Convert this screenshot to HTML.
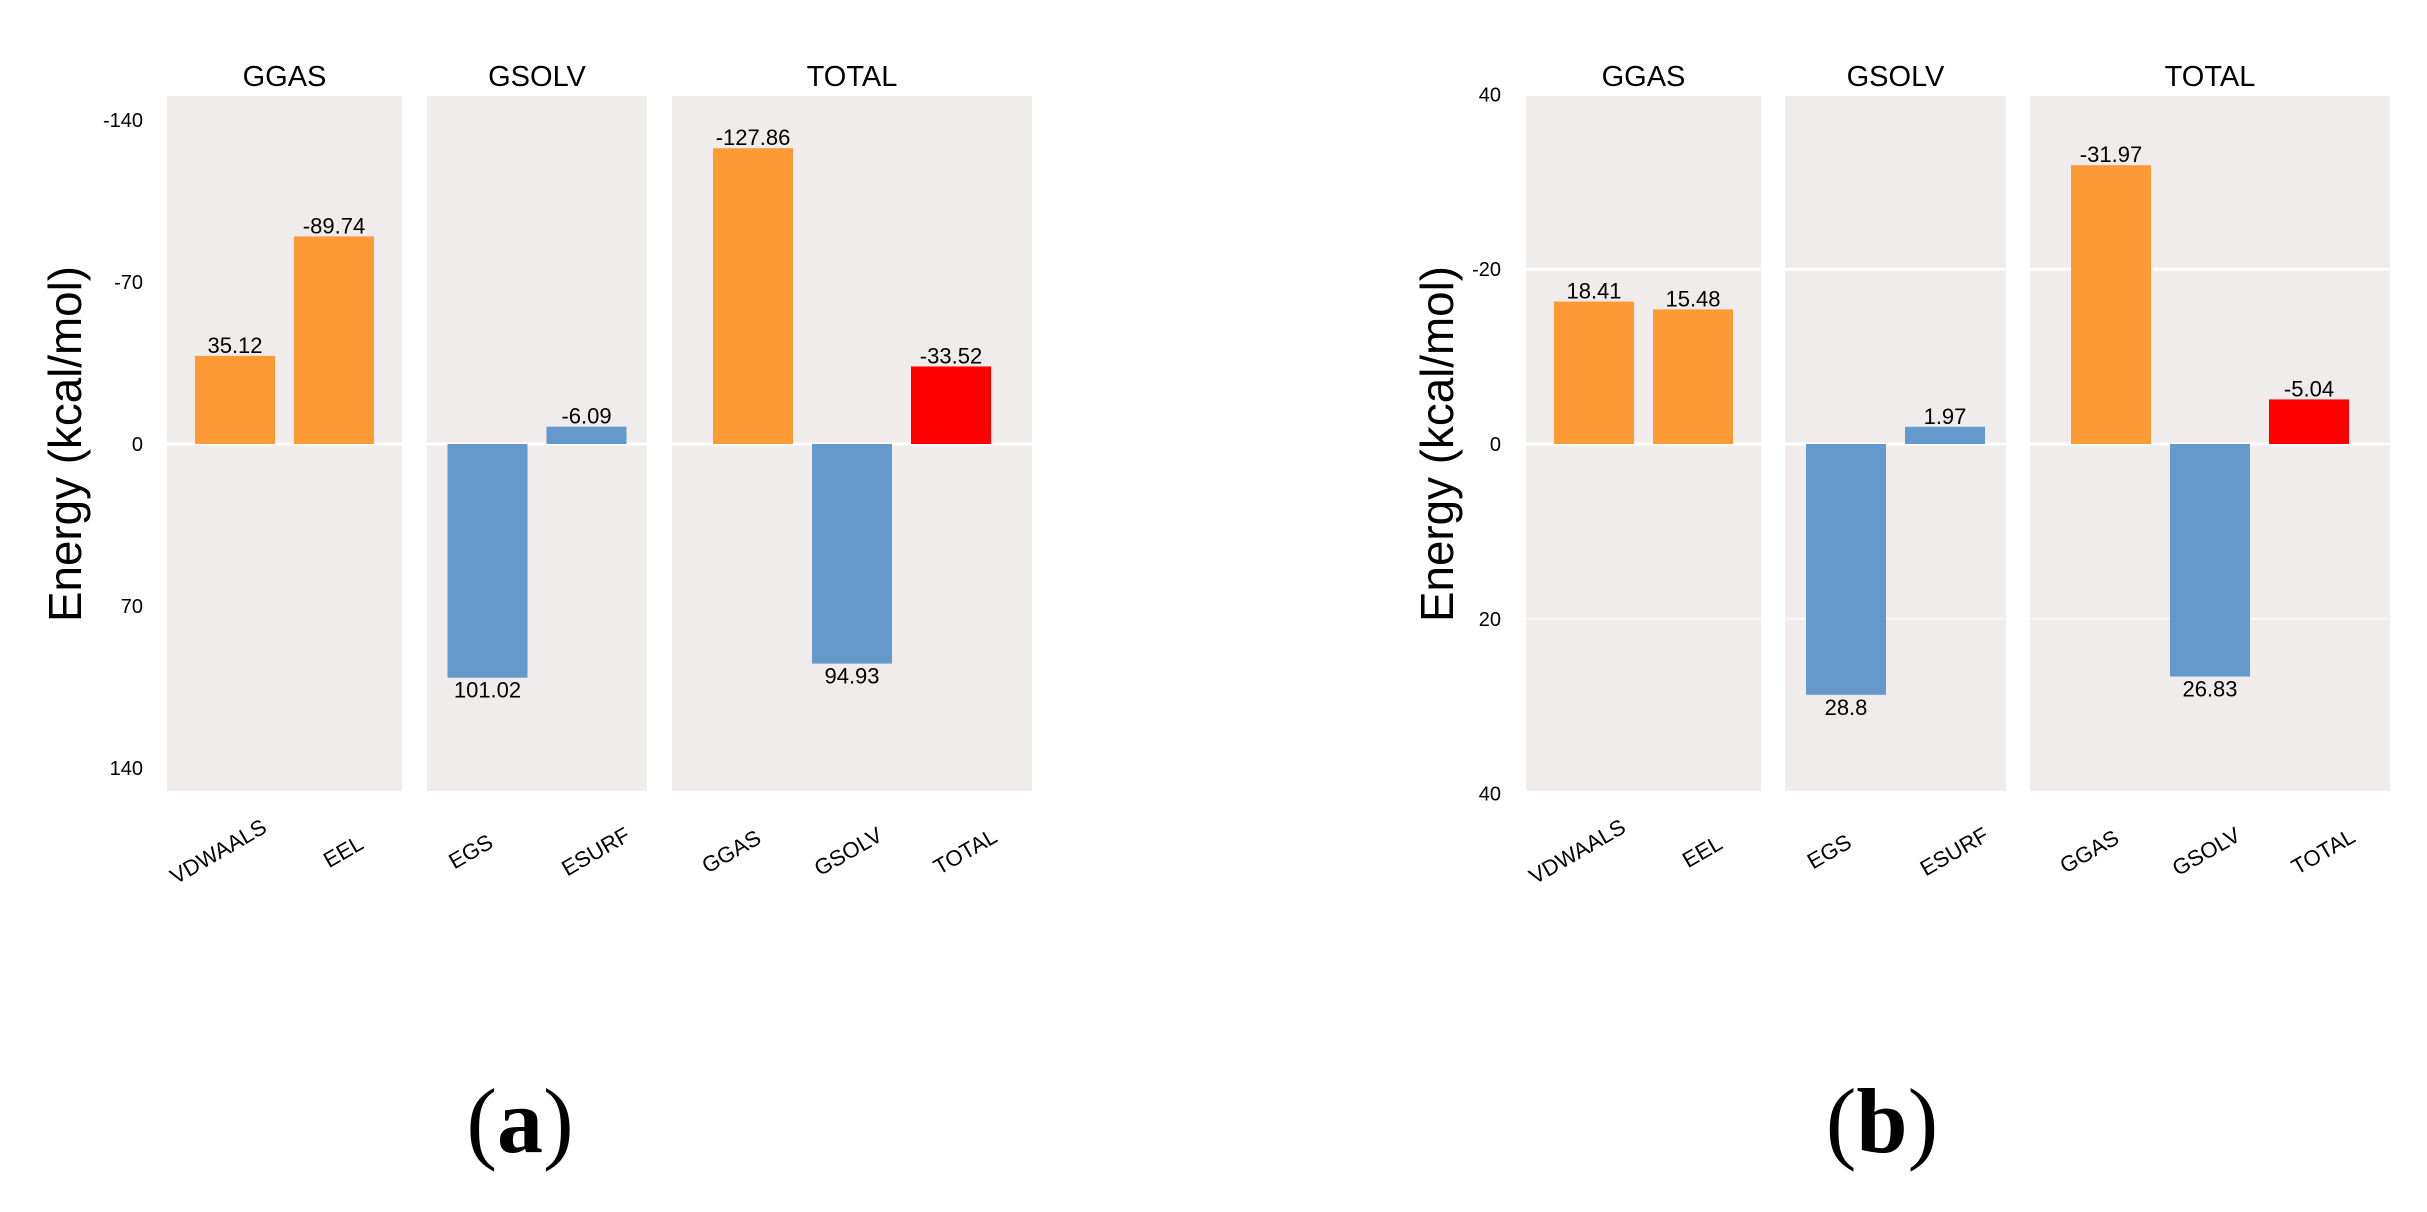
<!DOCTYPE html>
<html><head><meta charset="utf-8"><style>
html,body{margin:0;padding:0;background:#fff;}
svg{display:block;font-family:"Liberation Sans",Arial,sans-serif;}
</style></head><body>
<svg id="fig" width="2427" height="1212" viewBox="0 0 2427 1212" xmlns="http://www.w3.org/2000/svg">
<text x="0" y="0" transform="translate(81,444) rotate(-90)" text-anchor="middle" font-size="46" textLength="356" lengthAdjust="spacingAndGlyphs">Energy (kcal/mol)</text>
<text x="0" y="0" transform="translate(1453,444) rotate(-90)" text-anchor="middle" font-size="46" textLength="356" lengthAdjust="spacingAndGlyphs">Energy (kcal/mol)</text>
<text x="520" y="1152" text-anchor="middle" font-family="Liberation Serif, serif" font-size="92">(<tspan font-weight="bold">a</tspan>)</text>
<text x="1882" y="1152" text-anchor="middle" font-family="Liberation Serif, serif" font-size="92">(<tspan font-weight="bold">b</tspan>)</text>
</svg>
<script>
// ---- data: chart (a) ----
const facetsA = ["GGAS", "GSOLV", "TOTAL"];
const categoriesA = [["VDWAALS", "EEL"], ["EGS", "ESURF"], ["GGAS", "GSOLV", "TOTAL"]];
const valuesA = [[-38.1, -89.74], [101.02, -7.5], [-127.86, 94.93, -33.52]];
const labelsA = [["35.12", "-89.74"], ["101.02", "-6.09"], ["-127.86", "94.93", "-33.52"]];
const ticksA = [-140, -70, 0, 70, 140];
const tickLabelsA = ["-140", "-70", "0", "70", "140"];
const gridA = [0];
// ---- data: chart (b) ----
const facetsB = ["GGAS", "GSOLV", "TOTAL"];
const categoriesB = [["VDWAALS", "EEL"], ["EGS", "ESURF"], ["GGAS", "GSOLV", "TOTAL"]];
const valuesB = [[-16.3, -15.4], [28.7, -1.97], [-31.9, 26.6, -5.1]];
const labelsB = [["18.41", "15.48"], ["28.8", "1.97"], ["-31.97", "26.83", "-5.04"]];
const ticksB = [-40, -20, 0, 20, 40];
const tickLabelsB = ["40", "-20", "0", "20", "40"];
const gridB = [-20, 0, 20];

const NS = "http://www.w3.org/2000/svg";
const svg = document.getElementById("fig");
function mk(tag, attrs, parent) {
  const e = document.createElementNS(NS, tag);
  for (const k in attrs) e.setAttribute(k, attrs[k]);
  (parent || svg).appendChild(e);
  return e;
}
const colors = {GGAS:"#FE9A36", VDWAALS:"#FE9A36", EEL:"#FE9A36", EGS:"#6699CB", ESURF:"#6699CB", GSOLV:"#6699CB", TOTAL:"#FF0000"};

function drawChart(cfg) {
  const top = 96, bottom = 791, zero = 444;
  const y = v => zero + v * (bottom - zero) / cfg.dom;
  const g = mk("g", {});
  
  
  cfg.ticks.forEach((t, i) => {
    const tl = mk("text", {x: cfg.tickX, y: y(t) + 7, "text-anchor": "end", "font-size": 20, fill: "#000"}, g);
    
    
    tl.textContent = cfg.tickLabels[i];
  });
  cfg.facets.forEach((f, p) => {
    const [x0, x1] = cfg.panels[p];
    const bg = mk("rect", {x: x0, y: top, width: x1 - x0, height: bottom - top, fill: "#F0ECEB"}, g);
    
    
    cfg.grid.forEach(gv => {
      const ln = mk("line", {x1: x0, x2: x1, y1: y(gv), y2: y(gv), stroke: gv > 0 ? "#F8F6F6" : "#fff", "stroke-width": gv === 0 ? 3 : (gv > 0 ? 2 : 3)}, g);
      
      
    });
    const st = mk("text", {x: (x0 + x1) / 2, y: 86, "text-anchor": "middle", "font-size": 29}, g);
    
    
    st.textContent = f;
    const cats = cfg.cats[p], n = cats.length;
    const c0 = (x0 + x1) / 2 - (n - 1) * cfg.step / 2;
    cats.forEach((c, i) => {
      const cx = c0 + i * cfg.step, v = cfg.values[p][i];
      const yv = y(v), y0 = y(0);
      const r = mk("rect", {x: cx - 40, y: Math.min(yv, y0), width: 80, height: Math.abs(yv - y0), fill: colors[c]}, g);
      
      
      const lt = mk("text", {x: cx, y: v < 0 ? yv - 3 : yv + 20, "text-anchor": "middle", "font-size": 22}, g);
      
      
      lt.textContent = cfg.labels[p][i];
      const off = (i - (n - 1) / 2) * (n === 2 ? 26 : 18);
      const xl = mk("text", {x: 0, y: 0, transform: "translate(" + (cx + off) + ",858) rotate(-30)", "text-anchor": "middle", "font-size": 22}, g);
      
      
      xl.textContent = c;
    });
  });
}
drawChart({name: "chart-a", dom: 150, tickX: 143, step: 99, panels: [[167, 402], [427, 647], [672, 1032]],
  facets: facetsA, cats: categoriesA, values: valuesA, labels: labelsA, ticks: ticksA, tickLabels: tickLabelsA, grid: gridA});
drawChart({name: "chart-b", dom: 39.7, tickX: 1501, step: 99, panels: [[1526, 1761], [1785, 2006], [2030, 2390]],
  facets: facetsB, cats: categoriesB, values: valuesB, labels: labelsB, ticks: ticksB, tickLabels: tickLabelsB, grid: gridB});
</script>
</body></html>
